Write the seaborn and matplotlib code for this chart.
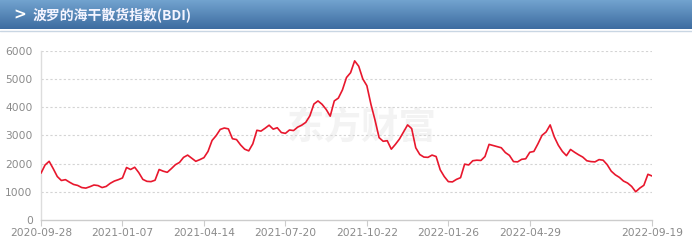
import numpy as np
import pandas as pd
import matplotlib
matplotlib.use("Agg")
import matplotlib.pyplot as plt
import seaborn as sns

title = "波罗的海干散货指数(BDI)"
tick_labels = ["2020-09-28", "2021-01-07", "2021-04-14", "2021-07-20",
               "2021-10-22", "2022-01-26", "2022-04-29", "2022-09-19"]
tick_steps = [0, 20, 40, 60, 80, 100, 120, 150]
y_ticks = [0, 1000, 2000, 3000, 4000, 5000, 6000]

bdi = [1660, 1950, 2080, 1820, 1540, 1400, 1430, 1340, 1260, 1225,
       1150, 1130, 1180, 1240, 1220, 1150, 1190, 1300, 1380, 1430,
       1490, 1860, 1790, 1870, 1680, 1440, 1370, 1360, 1410, 1790,
       1730, 1690, 1820, 1960, 2040, 2220, 2300, 2190, 2080, 2140,
       2210, 2430, 2820, 2990, 3210, 3260, 3230, 2880, 2850, 2660,
       2510, 2450, 2700, 3180, 3150, 3250, 3360, 3220, 3270, 3100,
       3070, 3190, 3170, 3290, 3360, 3460, 3690, 4110, 4220, 4100,
       3920, 3680, 4220, 4320, 4610, 5050, 5220, 5640, 5450, 5000,
       4760, 4100, 3540, 2920, 2790, 2810, 2510, 2680, 2870, 3120,
       3370, 3240, 2560, 2320, 2230, 2220, 2300, 2250, 1780, 1540,
       1360, 1350, 1440, 1500, 1980, 1950, 2100, 2120, 2110, 2250,
       2680, 2640, 2600, 2560, 2390, 2290, 2070, 2060, 2150, 2170,
       2400, 2430, 2700, 3000, 3120, 3370, 2950, 2650, 2430, 2280,
       2500, 2400, 2310, 2230, 2100, 2070, 2060, 2140, 2120, 1960,
       1730, 1600, 1510, 1380, 1310, 1190, 1000, 1130, 1230, 1620,
       1560]

df = pd.DataFrame({"step": np.arange(len(bdi)), "BDI": bdi})

sns.set_style("white")
plt.rcParams["font.family"] = ["DejaVu Sans", "Noto Sans CJK SC"]

W, H = 692, 246
fig = plt.figure(figsize=(W / 100, H / 100), dpi=100)

# header banner with gradient
hax = fig.add_axes([0, (H - 29) / H, 1, 29 / H])
grad = np.linspace(0, 1, 64).reshape(-1, 1)
top_c = np.array([0x72, 0xa3, 0xcf]) / 255
bot_c = np.array([0x3d, 0x6c, 0xa0]) / 255
img = top_c[None, None, :] * (1 - grad[:, :, None]) + bot_c[None, None, :] * grad[:, :, None]
hax.imshow(img, aspect="auto", extent=[0, 1, 0, 1])
hax.set_xlim(0, 1)
hax.set_ylim(0, 1)
hax.axis("off")
hax.text(13 / W, 0.5, ">", color="white", fontsize=11, fontweight="bold",
         va="center", ha="left", family=["DejaVu Sans"])
hax.text(33 / W, 0.48, title, color="#f4f4ff", fontsize=10, fontweight="bold",
         va="center", ha="left", family=["Noto Sans CJK SC", "DejaVu Sans"])
# separator line under banner
fig.add_artist(plt.Line2D([0, 1], [(H - 30.5) / H] * 2, color="#c9d6e3", lw=1.0))

ax = fig.add_axes([41 / W, (H - 220) / H, 611 / W, (220 - 50.7) / H])
sns.lineplot(data=df, x="step", y="BDI", ax=ax, color="#e8172d", lw=1.2, zorder=3)

ax.text(0.525, 0.545, "东方财富", transform=ax.transAxes, fontsize=27,
        color="#f3f3f3", ha="center", va="center", zorder=0, fontweight="bold",
        family=["Noto Sans CJK SC"])

ax.set_xlim(0, len(bdi) - 1)
ax.set_ylim(0, 6000)
ax.set_yticks(y_ticks)
ax.set_yticklabels([str(v) for v in y_ticks])
ax.set_xticks(tick_steps)
ax.set_xticklabels(tick_labels)
ax.set_xlabel("")
ax.set_ylabel("")
ax.grid(False)
for v in y_ticks[1:]:
    ax.axhline(v, color="#d4d4d4", lw=0.8, ls=(0, (2, 2)), zorder=1)
ax.tick_params(axis="y", length=0, pad=6, labelsize=7.7, labelcolor="#8a8a8a")
ax.tick_params(axis="x", length=4, width=0.8, color="#cccccc", pad=2,
               labelsize=7.7, labelcolor="#8a8a8a", direction="out", bottom=True)
for s in ["top", "right"]:
    ax.spines[s].set_visible(False)
ax.spines["left"].set_color("#dddddd")
ax.spines["bottom"].set_color("#cccccc")
ax.spines["left"].set_linewidth(1.0)
ax.spines["bottom"].set_linewidth(1.0)
ax.patch.set_alpha(0)

fig.savefig("out.png", dpi=100)
